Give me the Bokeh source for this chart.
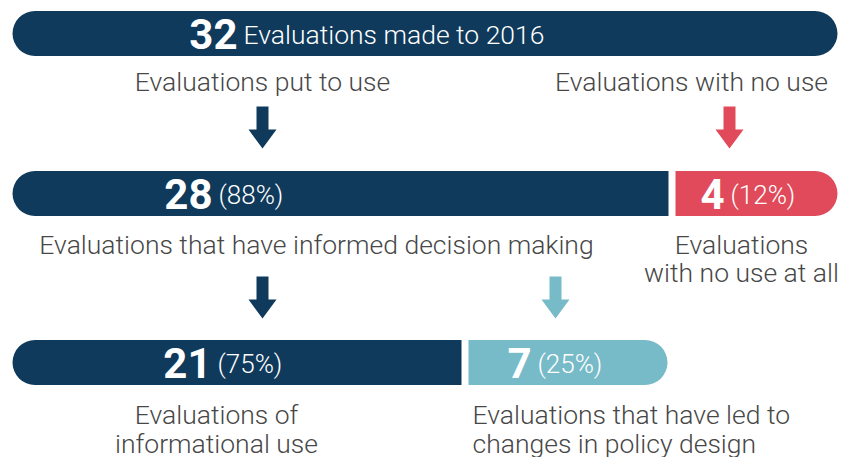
from bokeh.plotting import figure
from bokeh.models import Range1d
from bokeh.core.properties import value
from bokeh.embed import file_html
from bokeh.resources import INLINE

# ---- data ----
total_count = 32
total_label = "Evaluations made to 2016"
level1_counts = [28, 4]
level1_pcts = ["(88%)", "(12%)"]
level1_titles = ["Evaluations put to use", "Evaluations with no use"]
level1_labels = [["Evaluations that have informed decision making"],
                 ["Evaluations", "with no use at all"]]
level2_counts = [21, 7]
level2_pcts = ["(75%)", "(25%)"]
level2_labels = [["Evaluations of", "informational use"],
                 ["Evaluations that have led to", "changes in policy design"]]

# ---- styles ----
NAVY = "#0f3a5b"
RED = "#e04a5a"
TEAL = "#77bac8"
GREY = "#474747"
LIGHT = value("Roboto Light, Roboto")
BOLD = value("Roboto")

W, H = 849, 457
p = figure(width=W, height=H, output_backend="svg", toolbar_location=None,
           x_range=Range1d(0, W), y_range=Range1d(H, 0),
           min_border=0, outline_line_color=None)
p.axis.visible = False
p.grid.visible = False
p.background_fill_color = "white"


def bar(x0, x1, yc, color, radius):
    p.quad(left=[x0], right=[x1], top=[yc - 22.5], bottom=[yc + 22.5],
           fill_color=color, line_color=None, border_radius=radius)


def arrow(cx, y0, y1, color):
    sw, hw, hl = 6, 14, 19
    xs = [cx - sw, cx + sw, cx + sw, cx + hw, cx, cx - hw, cx - sw]
    ys = [y0, y0, y1 - hl, y1 - hl, y1, y1 - hl, y1 - hl]
    p.patch(xs, ys, fill_color=color, line_color=None)


def number(xr, y, n, pct, size_n=42, size_p=26):
    p.text([xr], [y], text=[str(n)], text_align="right", text_baseline="middle",
           text_font=BOLD, text_font_style="bold", text_font_size=f"{size_n}px",
           text_color="white")
    p.text([xr + 6], [y + 1], text=[pct], text_align="left", text_baseline="middle",
           text_font=LIGHT, text_font_size=f"{size_p}px", text_color="white")


def label(x, y, t, align="center"):
    p.text([x], [y], text=[t], text_align=align, text_baseline="middle",
           text_font=LIGHT, text_font_size="26.5px", text_color=GREY)


# row 0
y0 = 33
bar(12, 837, y0, NAVY, 23)
number(237, y0, total_count, total_label, size_p=26.5)

label(262, 81, level1_titles[0])
label(691, 81, level1_titles[1])
arrow(262, 106, 148, NAVY)
arrow(729, 106, 148, RED)

# row 1
y1 = 193
bar(12, 668, y1, NAVY, (23, 0, 0, 23))
bar(675, 837, y1, RED, (0, 23, 23, 0))
number(212, y1, level1_counts[0], level1_pcts[0])
number(724, y1, level1_counts[1], level1_pcts[1])

label(316, 244, level1_labels[0][0])
label(741, 244, level1_labels[1][0])
label(741, 272, level1_labels[1][1])
arrow(262, 276, 318, NAVY)
arrow(555, 276, 318, TEAL)

# row 2
y2 = 362
bar(12, 461, y2, NAVY, (23, 0, 0, 23))
bar(468, 667, y2, TEAL, (0, 23, 23, 0))
number(211, y2, level2_counts[0], level2_pcts[0])
number(531, y2, level2_counts[1], level2_pcts[1])

label(216, 414, level2_labels[0][0])
label(216, 443, level2_labels[0][1])
label(472, 414, level2_labels[1][0], "left")
label(472, 443, level2_labels[1][1], "left")

open("out.html", "w").write(file_html(p, INLINE))
